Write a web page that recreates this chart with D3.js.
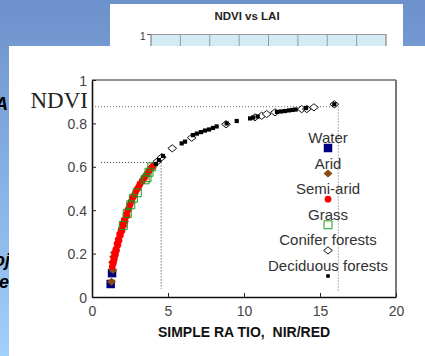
<!DOCTYPE html>
<html>
<head>
<meta charset="utf-8">
<script src="https://cdn.jsdelivr.net/npm/d3@7"></script>
<style>body{margin:0;overflow:hidden;}</style>
</head>
<body>
<svg id="chart" width="425" height="356"></svg>
<script>
// simple ratio (NIR/RED) vs NDVI, one array per cover type
var water = [[1.23, 0.06], [1.32, 0.11]];
var arid = [[1.28, 0.07], [1.37, 0.125], [1.36, 0.16], [1.42, 0.185], [1.48, 0.205]];
var semiArid = [[1.33, 0.14], [1.37, 0.16], [1.4, 0.155], [1.44, 0.18], [1.47, 0.175], [1.5, 0.2],
    [1.54, 0.195], [1.57, 0.22], [1.61, 0.215], [1.65, 0.245], [1.7, 0.24], [1.73, 0.265],
    [1.78, 0.26], [1.82, 0.29], [1.87, 0.285], [1.92, 0.31], [1.97, 0.305], [2.02, 0.335],
    [2.07, 0.33], [2.12, 0.355], [2.18, 0.35], [2.24, 0.38], [2.3, 0.375], [2.36, 0.4],
    [2.43, 0.41], [2.5, 0.425], [2.58, 0.44], [2.66, 0.455], [2.75, 0.465], [2.85, 0.48],
    [2.95, 0.495], [3.05, 0.505], [3.15, 0.52], [3.3, 0.535], [3.45, 0.55], [3.6, 0.565],
    [3.75, 0.58], [3.9, 0.595], [4.03, 0.604]];
var grass = [[2.06, 0.33], [2.32, 0.385], [2.55, 0.425], [2.72, 0.455], [2.98, 0.48],
    [3.49, 0.54], [3.62, 0.55], [3.75, 0.575], [3.93, 0.6]];
var conifer = [[4.3, 0.625], [4.59, 0.644], [5.28, 0.685], [6.56, 0.734], [8.82, 0.796],
    [10.72, 0.828], [11.16, 0.835], [11.49, 0.843], [12.04, 0.851], [13.8, 0.866],
    [14.13, 0.866], [14.6, 0.874], [15.94, 0.888]];
var deciduous = [[4.2, 0.613], [4.4, 0.631], [4.67, 0.65], [5.9, 0.708], [6.12, 0.716],
    [6.64, 0.746], [6.9, 0.753], [7.17, 0.76], [7.43, 0.767], [7.7, 0.772], [7.96, 0.779],
    [8.2, 0.786], [8.86, 0.8], [9.52, 0.811], [10.4, 0.823], [10.6, 0.827], [10.9, 0.832],
    [12.17, 0.853], [12.43, 0.855], [12.7, 0.857], [12.96, 0.86], [13.2, 0.862],
    [13.4, 0.864], [14.08, 0.871], [15.94, 0.888]];

// dotted guide lines (SR, NDVI corners)
var guideHigh = [[0.2, 0.877], [16.2, 0.877], [16.2, 0.02]];
var guideLow = [[0.6, 0.62], [4.55, 0.62], [4.55, 0.037]];

var legendNames = ["Water", "Arid", "Semi-arid", "Grass", "Conifer forests", "Deciduous forests"];
var xTicks = [0, 5, 10, 15, 20];
var yTicks = [0, 0.2, 0.4, 0.6, 0.8, 1];
var laiTicks = [0, 1, 2, 3, 4, 5, 6, 7, 8];

var sans = "Liberation Sans, Arial, sans-serif";
var svg = d3.select("#chart");

    //slide background
var grad = svg.append("defs").append("linearGradient")
    .attr("id", "bg").attr("x1", 0).attr("y1", 0).attr("x2", 0).attr("y2", 1);
grad.append("stop").attr("offset", "0%").attr("stop-color", "#6d91cb");
grad.append("stop").attr("offset", "100%").attr("stop-color", "#a0d0fc");
svg.append("rect").attr("width", 425).attr("height", 356).attr("fill", "url(#bg)");

    //slide text hidden behind the panel
var slideText = [["A", -5, 110], ["oj", -6, 266], ["e", -1, 288]];
svg.selectAll(".slidetext").data(slideText).enter().append("text")
    .attr("x", function (d) { return d[1]; })
    .attr("y", function (d) { return d[2]; })
    .attr("font-family", sans).attr("font-weight", "bold").attr("font-style", "italic")
    .attr("font-size", 18).text(function (d) { return d[0]; });

    //the second chart behind (NDVI vs LAI)
svg.append("rect").attr("x", 110).attr("y", 4).attr("width", 293).attr("height", 60).attr("fill", "#fff");
svg.append("text").attr("x", 247).attr("y", 20).attr("text-anchor", "middle")
    .attr("font-family", sans).attr("font-weight", "bold").attr("font-size", 11.5)
    .attr("fill", "#222").text("NDVI vs LAI");
var lai = d3.scaleLinear().domain([0, 8]).range([151, 386]);
svg.append("rect").attr("x", lai(0)).attr("y", 34.5).attr("width", lai(8) - lai(0)).attr("height", 20)
    .attr("fill", "#d3ecf3").attr("stroke", "#999");
svg.selectAll(".laigrid").data(laiTicks).enter().append("line")
    .attr("x1", function (d) { return lai(d); }).attr("x2", function (d) { return lai(d); })
    .attr("y1", 34.5).attr("y2", 50).attr("stroke", "#999");
svg.append("line").attr("x1", 147).attr("x2", 151).attr("y1", 34.5).attr("y2", 34.5).attr("stroke", "#666");
svg.append("text").attr("x", 145.5).attr("y", 39.5).attr("text-anchor", "end")
    .attr("font-family", sans).attr("font-size", 10).attr("fill", "#333").text("1");

    //front panel
svg.append("rect").attr("x", 9).attr("y", 46).attr("width", 416).attr("height", 310).attr("fill", "#fff");

    //scales
var x = d3.scaleLinear().domain([0, 20]).range([92, 396]);
var y = d3.scaleLinear().domain([0, 1]).range([297, 80]);

    //frame
svg.append("line").attr("x1", x(0)).attr("x2", x(20)).attr("y1", y(1)).attr("y2", y(1))
    .attr("stroke", "#222").attr("stroke-width", 1.2);
svg.append("line").attr("x1", x(20)).attr("x2", x(20)).attr("y1", y(1)).attr("y2", y(0))
    .attr("stroke", "#777").attr("stroke-width", 2);

    //axes
var yAxis = svg.append("g").attr("transform", "translate(" + x(0) + ",0)")
    .call(d3.axisLeft(y).tickValues(yTicks).tickSizeInner(-4).tickSizeOuter(0).tickPadding(5)
        .tickFormat(function (d) { return String(d); }));
var xAxis = svg.append("g").attr("transform", "translate(0," + y(0) + ")")
    .call(d3.axisBottom(x).tickValues(xTicks).tickSizeInner(-4).tickSizeOuter(0).tickPadding(9)
        .tickFormat(function (d) { return String(d); }));
[yAxis, xAxis].forEach(function (a) {
    a.select(".domain").attr("stroke", "#111").attr("stroke-width", 1.6);
    a.selectAll(".tick line").attr("stroke", "#222");
    a.selectAll(".tick text").attr("font-family", sans).attr("font-size", 14).attr("fill", "#444");
});
yAxis.selectAll(".tick text").attr("dy", "0.36em");

svg.append("text").attr("x", 88).attr("y", 108).attr("text-anchor", "end")
    .attr("font-family", "Liberation Serif, Times New Roman, serif").attr("font-size", 23)
    .attr("fill", "#222").text("NDVI");
svg.append("text").attr("x", 244).attr("y", 337).attr("text-anchor", "middle")
    .attr("font-family", sans).attr("font-weight", "bold").attr("font-size", 14)
    .attr("fill", "#111").style("white-space", "pre").attr("xml:space", "preserve")
    .text("SIMPLE RA TIO,  NIR/RED");

    //guide lines
var line = d3.line().x(function (d) { return x(d[0]); }).y(function (d) { return y(d[1]); });
svg.append("path").attr("d", line(guideHigh)).attr("fill", "none")
    .attr("stroke", "#666").attr("stroke-dasharray", "1,2");
svg.append("path").attr("d", line(guideLow)).attr("fill", "none")
    .attr("stroke", "#333").attr("stroke-dasharray", "1,2");

    //marker shapes
function diamond(w, h) {
    return "M0," + (-h) + "L" + w + ",0L0," + h + "L" + (-w) + ",0Z";
}
function square(s) {
    return "M" + (-s / 2) + "," + (-s / 2) + "h" + s + "v" + s + "h" + (-s) + "Z";
}
var styles = [
    { data: water, d: square(8.5), fill: "#000080", stroke: "none" },
    { data: arid, d: diamond(4.5, 4), fill: "#8b4a14", stroke: "none" },
    { data: semiArid, d: d3.symbol().type(d3.symbolCircle).size(36)(), fill: "#ff0000", stroke: "none" },
    { data: grass, d: square(8), fill: "none", stroke: "#1a9a1a" },
    { data: conifer, d: diamond(4.4, 3.6), fill: "#fff", stroke: "#111" },
    { data: deciduous, d: square(4.2), fill: "#000", stroke: "none" }
];

styles.forEach(function (s, i) {
    svg.append("g").selectAll("path").data(s.data).enter().append("path")
        .attr("transform", function (d) { return "translate(" + x(d[0]) + "," + y(d[1]) + ")"; })
        .attr("d", s.d).attr("fill", s.fill).attr("stroke", s.stroke);
});

    //legend
var legend = svg.append("g").selectAll("g").data(legendNames).enter().append("g")
    .attr("transform", function (d, i) { return "translate(328," + (143 + i * 25.6) + ")"; });
legend.append("text").attr("text-anchor", "middle")
    .attr("font-family", sans).attr("font-size", 15).attr("fill", "#333")
    .text(function (d) { return d; });
legend.append("path")
    .attr("transform", "translate(0,5)")
    .attr("d", function (d, i) { return i === 5 ? square(3.6) : styles[i].d; })
    .attr("fill", function (d, i) { return styles[i].fill; })
    .attr("stroke", function (d, i) { return styles[i].stroke; });
</script>
</body>
</html>
